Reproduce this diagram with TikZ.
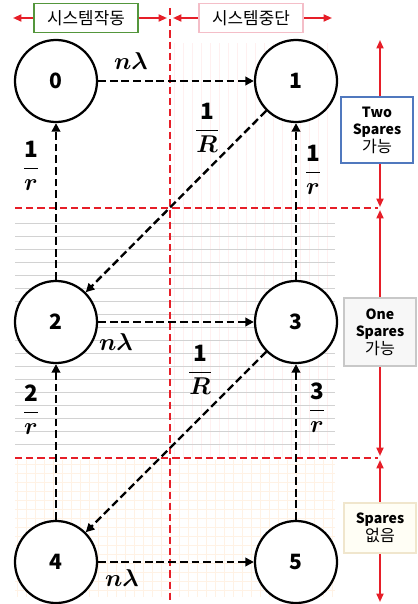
\documentclass[tikz,border=0pt]{standalone}
\usepackage{amsmath,amssymb,bm}
\usepackage{fontspec}
\setmainfont{Noto Sans CJK KR}
\usepackage{tikz}
\usetikzlibrary{arrows.meta,positioning}

\definecolor{lineRed}{RGB}{230,30,40}
\definecolor{boxGreen}{RGB}{84,150,60}
\definecolor{boxPink}{RGB}{244,190,200}
\definecolor{boxBlue}{RGB}{80,120,190}
\definecolor{boxGray}{RGB}{200,200,200}
\definecolor{boxBeige}{RGB}{240,230,205}
\newcommand{\ko}[1]{{\fontsize{11.5}{12.5}\selectfont #1}}

\begin{document}
\begin{tikzpicture}[x=0.025cm,y=-0.025cm,
  state/.style={circle,draw,line width=1.6pt,minimum size=2.05cm,inner sep=0pt,font=\fontsize{15}{15}\selectfont\bfseries,fill=white},
  trans/.style={line width=1.7pt,dash pattern=on 5.5pt off 2.8pt,-{Triangle[length=6pt,width=6pt]}},
  border/.style={lineRed,line width=1.1pt,dash pattern=on 5pt off 3pt},
  span/.style={lineRed,line width=1.3pt,{Triangle[length=6pt,width=5pt]}-{Triangle[length=6pt,width=5pt]}},
  head/.style={draw,line width=0.8pt,fill=white,minimum width=2.6cm,minimum height=0.72cm,font=\fontsize{12}{12}\selectfont},
  side/.style={draw,line width=0.8pt,fill=white,minimum width=1.8cm,minimum height=1.65cm,align=center,font=\fontsize{10}{12.5}\selectfont},
  rate/.style={font=\fontsize{16}{16}\selectfont},
  stripe/.style={red!6,line width=0.3pt},
  rule/.style={gray!35,line width=0.3pt},
  mesh/.style={orange!10,line width=0.3pt}]
 \useasboundingbox (0,0) rectangle (417,604);
 % background patterns
 \foreach \x in {174,183,...,333} \draw[stripe] (\x,43) -- (\x,458);
 \foreach \y in {223,236,...,450} \draw[rule] (15,\y) -- (335,\y);
 \foreach \x in {17,26,...,333} \draw[mesh] (\x,460) -- (\x,597);
 \foreach \y in {464,473,...,597} \draw[mesh] (15,\y) -- (335,\y);
 % dashed borders
 \draw[border] (170,8) -- (170,602);
 \draw[border] (15,208) -- (378,208);
 \draw[border] (15,458) -- (378,458);
 % header
 \draw[span] (13,18) -- (167,18);
 \draw[span] (173,18) -- (332,18);
 \node[head,draw=boxGreen] (run) at (86,18) {시스템작동};
 \node[head,draw=boxPink] (stop) at (251,18) {시스템중단};
 % side
 \draw[span] (380,40) -- (380,207);
 \draw[span] (380,210) -- (380,456);
 \draw[span] (380,460) -- (380,602);
 \node[side,draw=boxBlue] (two) at (377,130) {\textbf{Two}\\\textbf{Spares}\\\ko{가능}};
 \node[side,draw=boxGray,fill=gray!6,minimum height=1.7cm] (one) at (380,332) {\textbf{One}\\\textbf{Spares}\\\ko{가능}};
 \node[side,draw=boxBeige,fill=yellow!4,minimum height=1.25cm] (none) at (380,528) {\textbf{Spares}\\\ko{없음}};
 % states
 \node[state] (s0) at (56,81) {0};
 \node[state] (s1) at (296,81) {1};
 \node[state] (s2) at (56,322) {2};
 \node[state] (s3) at (296,322) {3};
 \node[state] (s4) at (56,562) {4};
 \node[state] (s5) at (296,562) {5};
 % transitions
 \draw[trans] (s0) -- (s1);
 \draw[trans] (s2) -- (s3);
 \draw[trans] (s4) -- (s5);
 \draw[trans] (s2) -- (s0);
 \draw[trans] (s4) -- (s2);
 \draw[trans] (s3) -- (s1);
 \draw[trans] (s5) -- (s3);
 \draw[trans] (s1.-135) -- (s2.45);
 \draw[trans] (s3.-135) -- (s4.45);
 % rates
 \node[rate] (r01) at (131,61) {$\bm{n\lambda}$};
 \node[rate] (r23) at (116,342) {$\bm{n\lambda}$};
 \node[rate] (r45) at (122,578) {$\bm{n\lambda}$};
 \node[rate] (r20) at (31,166) {$\dfrac{\mathbf{1}}{\bm{r}}$};
 \node[rate] (r31) at (313,170) {$\dfrac{\mathbf{1}}{\bm{r}}$};
 \node[rate] (r42) at (31,410) {$\dfrac{\mathbf{2}}{\bm{r}}$};
 \node[rate] (r53) at (317,408) {$\dfrac{\mathbf{3}}{\bm{r}}$};
 \node[rate] (r12) at (207,128) {$\dfrac{\mathbf{1}}{\bm{R}}$};
 \node[rate] (r34) at (200,370) {$\dfrac{\mathbf{1}}{\bm{R}}$};
\end{tikzpicture}
\end{document}
